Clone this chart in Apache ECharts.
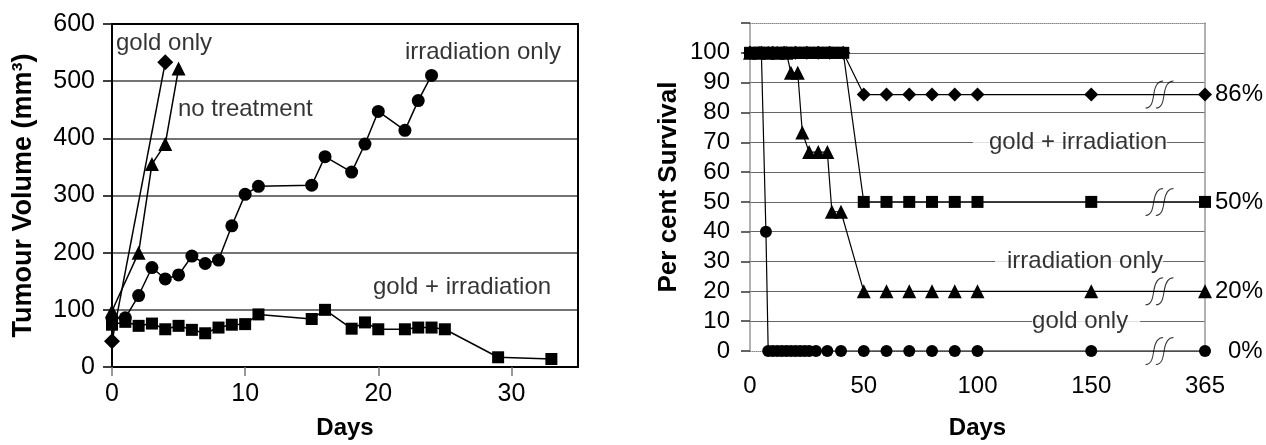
<!DOCTYPE html>
<html>
<head>
<meta charset="utf-8">
<script src="https://cdn.jsdelivr.net/npm/echarts@6/dist/echarts.min.js"></script>
<style>
html,body{margin:0;padding:0;background:#fff;}
#c{width:1266px;height:445px;}
</style>
</head>
<body>
<div id="c"></div>
<script>
// ---------- Left chart: tumour volume ----------
const goldOnlyDays = [0, 4];
const goldOnlyVol = [45, 533];
const noTreatDays = [0, 2, 3, 4, 5];
const noTreatVol = [98, 200, 355, 390, 522];
const irrOnlyDays = [0, 1, 2, 3, 4, 5, 6, 7, 8, 9, 10, 11, 15, 16, 18, 19, 20, 22, 23, 24];
const irrOnlyVol = [85, 86, 125, 174, 154, 161, 194, 181, 187, 247, 302, 316, 318, 368, 341, 390, 447, 414, 466, 510];
const goldIrrDays = [0, 1, 2, 3, 4, 5, 6, 7, 8, 9, 10, 11, 15, 16, 18, 19, 20, 22, 23, 24, 25, 29, 33];
const goldIrrVol = [74, 79, 72, 76, 66, 72, 65, 59, 69, 74, 75, 92, 84, 100, 67, 78, 66, 66, 69, 69, 66, 17, 14];
const volTickLabels = [0, 10, 20, 30];

// ---------- Right chart: per cent survival ----------
const survTickLabels = ['0', '50', '100', '150', '365'];
const survTickDays = [0, 50, 100, 150, 365];
const diamondDays = [0, 5, 10, 15, 20, 25, 30, 35, 41, 50, 60, 70, 80, 90, 100, 150, 365];
const diamondSurv = [100, 100, 100, 100, 100, 100, 100, 100, 100, 86, 86, 86, 86, 86, 86, 86, 86];
const squareDays = [0, 2, 4, 6, 8, 10, 12, 14, 16, 18, 20, 22, 24, 26, 28, 30, 32, 34, 36, 38, 41, 50, 60, 70, 80, 90, 100, 150, 365];
const squareSurv = [100, 100, 100, 100, 100, 100, 100, 100, 100, 100, 100, 100, 100, 100, 100, 100, 100, 100, 100, 100, 100, 50, 50, 50, 50, 50, 50, 50, 50];
const triangleDays = [0, 4, 8, 12, 16, 18, 21, 23, 26, 30, 34, 36, 40, 50, 60, 70, 80, 90, 100, 150, 365];
const triangleSurv = [100, 100, 100, 100, 100, 93.3, 93.3, 73.3, 66.7, 66.7, 66.7, 46.7, 46.7, 20, 20, 20, 20, 20, 20, 20, 20];
const circleDays = [0, 3, 5, 7, 8, 10, 12, 14, 16, 18, 20, 22, 24, 26, 29, 34, 40, 50, 60, 70, 80, 90, 100, 150, 365];
const circleSurv = [100, 100, 100, 40, 0, 0, 0, 0, 0, 0, 0, 0, 0, 0, 0, 0, 0, 0, 0, 0, 0, 0, 0, 0, 0];
const endLabels = ['86%', '50%', '20%', '0%'];

// axis break: day 365 is drawn at the end of a 0–200 scale
const BREAK_FROM = 365, BREAK_TO = 200, BREAK_MARK_AT = 180;
const pos = d => (d === BREAK_FROM ? BREAK_TO : d);

const FONT = 'Liberation Sans, Arial, sans-serif';
const zip = (xs, ys, f) => xs.map((x, i) => [f ? f(x) : x, ys[i]]);

function leftSeries(name, days, vals, symbol, size) {
  return {
    name, type: 'line', xAxisIndex: 0, yAxisIndex: 0,
    data: zip(days, vals), symbol, symbolSize: size, clip: false,
    itemStyle: {color: '#000'}, lineStyle: {color: '#000', width: 1.5},
    animation: false, z: 5
  };
}
function rightSeries(name, days, vals, symbol, size, endLabel, dist) {
  const data = zip(days, vals, pos).map((v, i, arr) => i === arr.length - 1 ? {
    value: v,
    label: {show: true, position: 'right', distance: dist, formatter: endLabel,
      color: '#000', fontFamily: FONT, fontSize: 24}
  } : v);
  return {
    name, type: 'line', xAxisIndex: 2, yAxisIndex: 2,
    data, symbol, symbolSize: size, clip: false,
    itemStyle: {color: '#000'}, lineStyle: {color: '#000', width: 1.2},
    animation: false, z: 5
  };
}
function textSeries(xi, yi, items) {
  return {
    type: 'scatter', xAxisIndex: xi, yAxisIndex: yi, symbolSize: 0, silent: true,
    animation: false, z: 8,
    data: items.map(t => ({
      value: t.at, name: t.text,
      label: Object.assign({show: true, position: 'right', distance: 0, formatter: t.text,
        color: '#000', fontFamily: FONT, fontSize: 24}, t.style || {})
    }))
  };
}

const leftNotes = [
  {text: 'gold only', at: [0.3, 566]},
  {text: 'no treatment', at: [4.95, 450]},
  {text: 'irradiation only', at: [22, 550]},
  {text: 'gold + irradiation', at: [19.6, 139]}
];
const rightNotes = [
  {text: 'gold + irradiation', at: [98, 70], style: {backgroundColor: '#fff', padding: [3, 0, 3, 16]}},
  {text: 'irradiation only', at: [107.7, 30], style: {backgroundColor: '#fff', padding: [3, 0, 3, 12]}},
  {text: 'gold only', at: [124, 10], style: {backgroundColor: '#fff', padding: [3, 12, 3, 0]}}
];

const breakMarks = [diamondSurv, squareSurv, triangleSurv, circleSurv].map(s => [BREAK_MARK_AT, s[s.length - 1]]);

const axisLabel = (size, margin) => ({color: '#000', fontFamily: FONT, fontSize: size, margin});

const chart = echarts.init(document.getElementById('c'), null, {renderer: 'canvas'});
chart.setOption({
  backgroundColor: '#fff',
  animation: false,
  grid: [
    {left: 112, right: 688, top: 24, bottom: 73},
    {left: 750, right: 61, top: 23, bottom: 90}
  ],
  xAxis: [
    {
      gridIndex: 0, type: 'value', position: 'bottom', min: 0, max: 35, interval: 10,
      name: 'Days', nameLocation: 'middle', nameGap: 49,
      nameTextStyle: {color: '#000', fontFamily: FONT, fontSize: 24, fontWeight: 'bold'},
      axisLine: {onZero: false, lineStyle: {color: '#000', width: 2}},
      axisTick: {show: true, length: 9, lineStyle: {color: '#777', width: 1.5}},
      axisLabel: Object.assign(axisLabel(25, 15), {showMaxLabel: false,
        formatter: v => volTickLabels.indexOf(v) >= 0 ? String(v) : ''}),
      splitLine: {show: false}
    },
    {
      gridIndex: 0, type: 'value', position: 'top', min: 0, max: 35,
      axisLine: {onZero: false, lineStyle: {color: '#000', width: 2}},
      axisTick: {show: false}, axisLabel: {show: false}, splitLine: {show: false}
    },
    {
      gridIndex: 1, type: 'value', position: 'bottom', min: 0, max: BREAK_TO, interval: 50,
      name: 'Days', nameLocation: 'middle', nameGap: 65,
      nameTextStyle: {color: '#000', fontFamily: FONT, fontSize: 24, fontWeight: 'bold'},
      axisLine: {onZero: false, lineStyle: {color: '#888', width: 1, type: 'dotted'}},
      axisTick: {show: false},
      axisLabel: Object.assign(axisLabel(24, 23), {
        formatter: v => {
          const i = survTickDays.map(pos).indexOf(v);
          return i >= 0 ? survTickLabels[i] : '';
        }
      }),
      splitLine: {show: false}
    },
    {
      gridIndex: 1, type: 'value', position: 'top', min: 0, max: BREAK_TO,
      axisLine: {onZero: false, lineStyle: {color: '#888', width: 1, type: 'dotted'}},
      axisTick: {show: false}, axisLabel: {show: false}, splitLine: {show: false}
    }
  ],
  yAxis: [
    {
      gridIndex: 0, type: 'value', position: 'left', min: 0, max: 600, interval: 100,
      name: 'Tumour Volume (mm³)', nameLocation: 'middle', nameGap: 75, nameRotate: 90,
      nameTextStyle: {color: '#000', fontFamily: FONT, fontSize: 27, fontWeight: 'bold'},
      axisLine: {onZero: false, lineStyle: {color: '#000', width: 2}},
      axisTick: {show: true, length: 9, lineStyle: {color: '#000', width: 1.5}},
      axisLabel: axisLabel(25, 17),
      splitLine: {show: true, showMinLine: false, showMaxLine: false, lineStyle: {color: '#444', width: 1.5}}
    },
    {
      gridIndex: 0, type: 'value', position: 'right', min: 0, max: 600,
      axisLine: {show: true, onZero: false, lineStyle: {color: '#000', width: 2}},
      axisTick: {show: false}, axisLabel: {show: false}, splitLine: {show: false}
    },
    {
      gridIndex: 1, type: 'value', position: 'left', min: 0, max: 110, interval: 10,
      name: 'Per cent Survival', nameLocation: 'middle', nameGap: 68, nameRotate: 90,
      nameTextStyle: {color: '#000', fontFamily: FONT, fontSize: 26, fontWeight: 'bold'},
      axisLine: {onZero: false, lineStyle: {color: '#999', width: 1.5}},
      axisTick: {show: true, length: 9, lineStyle: {color: '#333', width: 1.5}},
      axisLabel: Object.assign(axisLabel(24, 20), {formatter: v => v > 100 ? '' : String(v)}),
      splitLine: {show: true, showMinLine: false, showMaxLine: false, lineStyle: {color: '#666', width: 1}}
    },
    {
      gridIndex: 1, type: 'value', position: 'right', min: 0, max: 110,
      axisLine: {show: true, onZero: false, lineStyle: {color: '#999', width: 1.5}},
      axisTick: {show: false}, axisLabel: {show: false}, splitLine: {show: false}
    }
  ],
  series: [
    leftSeries('gold only', goldOnlyDays, goldOnlyVol, 'diamond', 16),
    leftSeries('no treatment', noTreatDays, noTreatVol, 'triangle', 14),
    leftSeries('irradiation only', irrOnlyDays, irrOnlyVol, 'circle', 13),
    leftSeries('gold + irradiation', goldIrrDays, goldIrrVol, 'rect', 12),
    textSeries(0, 0, leftNotes),
    rightSeries('diamonds', diamondDays, diamondSurv, 'diamond', 14, endLabels[0], 3),
    rightSeries('squares', squareDays, squareSurv, 'rect', 12, endLabels[1], 4),
    rightSeries('triangles', triangleDays, triangleSurv, 'triangle', 14, endLabels[2], 3),
    rightSeries('circles', circleDays, circleSurv, 'circle', 12, endLabels[3], 17),
    textSeries(2, 2, rightNotes),
    {
      type: 'scatter', xAxisIndex: 2, yAxisIndex: 2, silent: true, animation: false, z: 6,
      data: breakMarks,
      symbol: 'path://M0,27 C6,27 7,20 8,13 C9,6 11,0 17,0 M10,27 C16,27 17,20 18,13 C19,6 21,0 27,0',
      symbolSize: [28, 27],
      itemStyle: {color: 'transparent', borderColor: '#000', borderWidth: 1}
    }
  ]
});
</script>
</body>
</html>
